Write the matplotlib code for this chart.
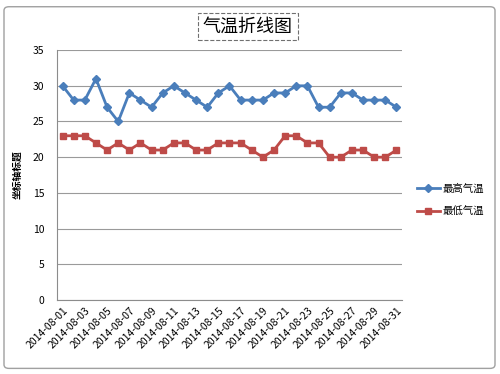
import matplotlib
matplotlib.use("Agg")
import matplotlib.pyplot as plt
from matplotlib.patches import FancyBboxPatch

plt.rcParams['font.family'] = ['Noto Sans CJK SC', 'DejaVu Sans']

dates = ["2014-08-%02d" % d for d in range(1, 32)]
high = [30, 28, 28, 31, 27, 25, 29, 28, 27, 29, 30, 29, 28, 27, 29, 30,
        28, 28, 28, 29, 29, 30, 30, 27, 27, 29, 29, 28, 28, 28, 27]
low = [23, 23, 23, 22, 21, 22, 21, 22, 21, 21, 22, 22, 21, 21, 22, 22,
       22, 21, 20, 21, 23, 23, 22, 22, 20, 20, 21, 21, 20, 20, 21]
yticks = [0, 5, 10, 15, 20, 25, 30, 35]

fig = plt.figure(figsize=(5, 3.74), dpi=100)

# chart border like the excel chart box
fig.patches.append(FancyBboxPatch((0.008, 0.015), 0.982, 0.967,
                                  boxstyle="round,pad=0,rounding_size=0.01",
                                  transform=fig.transFigure, fill=False,
                                  edgecolor="#a0a0a0", linewidth=1))

ax = fig.add_axes([0.114, 0.198, 0.69, 0.668])
x = list(range(len(dates)))
ax.plot(x, high, color="#4A7EBB", marker="D", markersize=4.5, linewidth=2, label="最高气温")
ax.plot(x, low, color="#BE4B48", marker="s", markersize=5, linewidth=2, label="最低气温")

ax.set_xlim(-0.5, 30.5)
ax.set_ylim(0, 35)
ax.set_yticks(yticks)
ax.yaxis.grid(True, color="#9a9a9a", linewidth=0.8)
ax.set_axisbelow(True)
ax.set_xticks(x[::2])
ax.set_xticklabels(dates[::2], rotation=45, ha="right", rotation_mode="anchor", fontsize=7.5)
ax.tick_params(axis="both", length=0, labelsize=7.5)
ax.tick_params(axis="x", pad=4)
ax.tick_params(axis="y", pad=9)
for s in ["top", "right"]:
    ax.spines[s].set_visible(False)
for s in ["left", "bottom"]:
    ax.spines[s].set_color("#8c8c8c")

ax.set_ylabel("坐标轴标题", fontsize=7, fontweight="bold")
ax.yaxis.set_label_coords(-0.1, 0.5)

fig.text(0.496, 0.928, "气温折线图", ha="center", va="center", fontsize=13,
         bbox=dict(boxstyle="square,pad=0.25", fill=False, edgecolor="#707070",
                   linestyle="--", linewidth=0.8))

fig.legend(loc="center left", bbox_to_anchor=(0.815, 0.465), frameon=False,
           fontsize=7.5, handlelength=2.2, handletextpad=0.3, labelspacing=1.3)

fig.savefig("out.png", dpi=100)
